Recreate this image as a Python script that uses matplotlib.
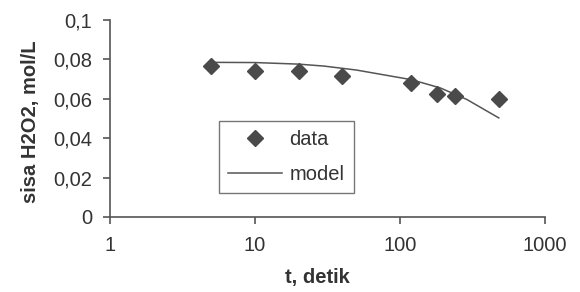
import matplotlib
matplotlib.use("Agg")
import matplotlib.pyplot as plt
from matplotlib.ticker import FixedLocator, FixedFormatter

plt.rcParams['font.family'] = ['Liberation Sans', 'DejaVu Sans']

t_data = [5, 10, 20, 40, 120, 180, 240, 480]
h2o2_data = [0.0764, 0.0742, 0.0742, 0.0716, 0.0678, 0.0623, 0.0613, 0.0598]

t_model = [5, 10, 20, 30, 50, 120, 190, 290, 480]
h2o2_model = [0.0785, 0.0784, 0.0776, 0.0766, 0.0746, 0.0697, 0.0655, 0.0596, 0.0503]

x_ticks = [1, 10, 100, 1000]
x_labels = ['1', '10', '100', '1000']
y_ticks = [0, 0.02, 0.04, 0.06, 0.08, 0.1]
y_labels = ['0', '0,02', '0,04', '0,06', '0,08', '0,1']

fig = plt.figure(figsize=(5.8, 2.92), dpi=100)
ax = fig.add_axes([110/580, 1-217/292, (545-110)/580, (217-20)/292])

ax.plot(t_model, h2o2_model, color='#555555', lw=1.1, label='model', zorder=2)
ax.plot(t_data, h2o2_data, linestyle='none', marker='D', markersize=8.5,
        color='#4a4a4a', label='data', zorder=3)

ax.set_xscale('log')
ax.set_xlim(1, 1000)
ax.set_ylim(0, 0.1)
ax.xaxis.set_major_locator(FixedLocator(x_ticks))
ax.xaxis.set_major_formatter(FixedFormatter(x_labels))
ax.xaxis.set_minor_locator(FixedLocator([]))
ax.yaxis.set_major_locator(FixedLocator(y_ticks))
ax.yaxis.set_major_formatter(FixedFormatter(y_labels))

for s in ['top', 'right']:
    ax.spines[s].set_visible(False)
for s in ['left', 'bottom']:
    ax.spines[s].set_color('#555555')
    ax.spines[s].set_linewidth(1.2)

ax.tick_params(axis='both', direction='out', length=5, width=1.2, color='#555555',
               labelsize=14.5, labelcolor='#333333')
ax.tick_params(axis='x', pad=9)
ax.tick_params(axis='y', pad=8)

ax.set_xlabel('t, detik', fontsize=14.5, fontweight='bold', color='#333333', va='center')
ax.xaxis.set_label_coords((317-110)/435, (217-278)/197)
ax.set_ylabel('sisa H2O2, mol/L', fontsize=14.5, fontweight='bold', color='#333333', va='center')
ax.yaxis.set_label_coords((31-110)/435, (217-122)/197)

handles, labels = ax.get_legend_handles_labels()
leg = ax.legend([handles[1], handles[0]], [labels[1], labels[0]],
                loc='upper left', bbox_to_anchor=((219-110)/435, (217-121)/197),
                borderaxespad=0, frameon=True, fancybox=False, fontsize=14.5,
                handlelength=2.7, borderpad=0.45, labelspacing=0.8, handletextpad=0.35)
leg.get_frame().set_edgecolor('#555555')
leg.get_frame().set_linewidth(1.0)
for txt in leg.get_texts():
    txt.set_color('#333333')

fig.savefig('out.png', dpi=100)
